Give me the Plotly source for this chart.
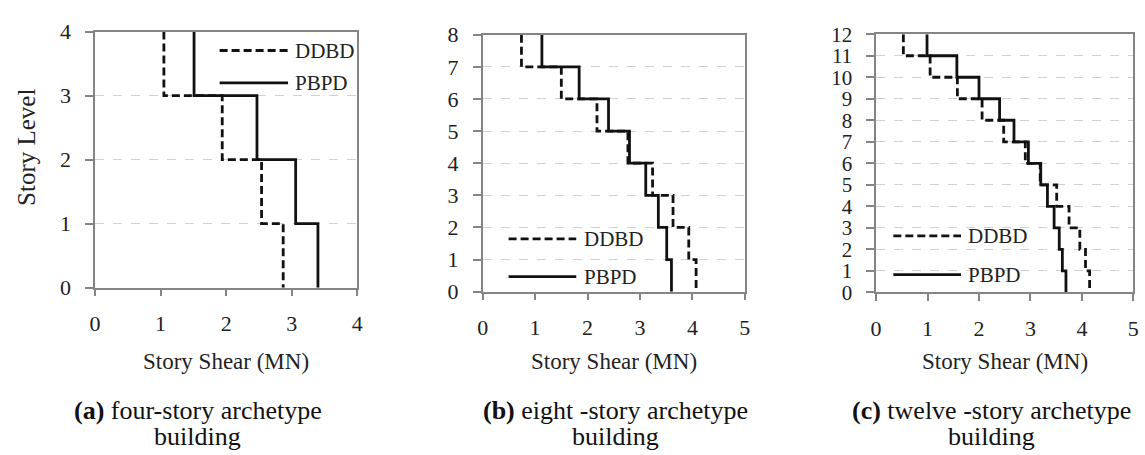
import plotly.graph_objects as go

# Story shear (MN) per story, listed from the first story (bottom) up to the roof
four_levels = 4
four_ddbd = [2.87, 2.54, 1.94, 1.05]
four_pbpd = [3.40, 3.06, 2.47, 1.51]

eight_levels = 8
eight_ddbd = [4.07, 3.93, 3.63, 3.24, 2.77, 2.18, 1.50, 0.74]
eight_pbpd = [3.60, 3.51, 3.35, 3.11, 2.80, 2.40, 1.84, 1.13]

twelve_levels = 12
twelve_ddbd = [4.15, 4.07, 3.96, 3.75, 3.51, 3.19, 2.90, 2.48, 2.06, 1.58, 1.05, 0.53]
twelve_pbpd = [3.69, 3.62, 3.56, 3.46, 3.33, 3.20, 2.96, 2.68, 2.40, 2.00, 1.57, 0.99]

x_max = [4, 5, 5]
captions = [
    ("(a)", "four-story archetype"),
    ("(b)", "eight -story archetype"),
    ("(c)", "twelve -story archetype"),
]
series_names = ["DDBD", "PBPD"]

W, H = 1145, 455
FONT = "Liberation Serif, Times New Roman, Times, serif"
INK = "#111111"
AXIS = "#858585"


def px_x(p):
    return p / W


def px_y(p):
    return 1 - p / H


def step_profile(shears, levels):
    """Stair-step shear profile from the roof down to the base."""
    ys = list(range(levels, -1, -1))
    xs = [shears[k - 1] for k in range(levels, 0, -1)] + [shears[0]]
    return xs, ys


panels = [
    dict(levels=four_levels, ddbd=four_ddbd, pbpd=four_pbpd,
         xdom=[px_x(90), px_x(355)], ydom=[px_y(291.7), px_y(20.7)],
         leg=dict(x0=0.475, x1=0.736, y=[0.926, 0.800]),
         cap_x=194, ytick_size=22),
    dict(levels=eight_levels, ddbd=eight_ddbd, pbpd=eight_pbpd,
         xdom=[px_x(481.7), px_x(746.7)], ydom=[px_y(296), px_y(24)],
         leg=dict(x0=0.099, x1=0.357, y=[0.206, 0.059]),
         cap_x=616, ytick_size=22),
    dict(levels=twelve_levels, ddbd=twelve_ddbd, pbpd=twelve_pbpd,
         xdom=[px_x(879.3), px_x(1139.3)], ydom=[px_y(296.7), px_y(23.5)],
         leg=dict(x0=0.067, x1=0.330, y=[0.219, 0.069]),
         cap_x=996, ytick_size=21),
]

fig = go.Figure()
shapes = []
annotations = []
dash_pat = "8px,4px"

for i, p in enumerate(panels):
    sfx = "" if i == 0 else str(i + 1)
    xa, ya = "x" + sfx, "y" + sfx

    for name, vals, dash in [(series_names[0], p["ddbd"], dash_pat),
                             (series_names[1], p["pbpd"], "solid")]:
        xs, ys = step_profile(vals, p["levels"])
        fig.add_trace(go.Scatter(
            x=xs, y=ys, mode="lines", name=name, showlegend=False,
            line=dict(color=INK, width=2.8, dash=dash, shape="vh"),
            xaxis=xa, yaxis=ya, cliponaxis=False,
        ))

    axis_common = dict(
        showline=True, linecolor=AXIS, linewidth=1.5, mirror=True,
        ticks="outside", tickcolor=AXIS, tickwidth=1.5,
        zeroline=False, dtick=1, tick0=0,
        fixedrange=True,
    )
    fig.update_layout({
        "xaxis" + sfx: dict(axis_common, domain=p["xdom"], range=[0, x_max[i]],
                            showgrid=False, ticklen=7, ticklabelstandoff=8,
                            tickfont=dict(family=FONT, size=22, color="#222222"),
                            anchor=ya),
        "yaxis" + sfx: dict(axis_common, domain=p["ydom"], range=[0, p["levels"]],
                            showgrid=True, gridcolor="#d2d2d2", gridwidth=1,
                            griddash="dash", ticklen=8, ticklabelstandoff=10,
                            tickfont=dict(family=FONT, size=p["ytick_size"],
                                          color="#222222"),
                            anchor=xa),
    })

    # legend keys drawn inside each panel
    lg = p["leg"]
    for name, dash, yk in [(series_names[0], dash_pat, lg["y"][0]),
                           (series_names[1], "solid", lg["y"][1])]:
        shapes.append(dict(type="line", xref=xa + " domain", yref=ya + " domain",
                           x0=lg["x0"], x1=lg["x1"], y0=yk, y1=yk,
                           line=dict(color=INK, width=2.8, dash=dash)))
        annotations.append(dict(xref=xa + " domain", yref=ya + " domain",
                                x=lg["x1"] + 0.02, y=yk, xanchor="left",
                                yanchor="middle", text=name, showarrow=False,
                                font=dict(family=FONT, size=21, color="#222222")))

    # x-axis title
    annotations.append(dict(xref=xa + " domain", yref="paper", x=0.5,
                            y=px_y(370), xanchor="center", yanchor="middle",
                            text="Story Shear (MN)", showarrow=False,
                            font=dict(family=FONT, size=23, color="#222222")))

    # caption beneath each panel
    tag, desc = captions[i]
    annotations.append(dict(xref="paper", yref="paper", x=px_x(p["cap_x"]),
                            y=px_y(422), xanchor="center", yanchor="middle",
                            text="<b>" + tag + "</b> " + desc, showarrow=False,
                            font=dict(family=FONT, size=26, color="#111111")))
    annotations.append(dict(xref="paper", yref="paper", x=px_x(p["cap_x"]),
                            y=px_y(449), xanchor="center", yanchor="middle",
                            text="building", showarrow=False,
                            font=dict(family=FONT, size=26, color="#111111")))

# shared y-axis title on the first panel
annotations.append(dict(xref="paper", yref="paper", x=px_x(20), y=px_y(143),
                        xanchor="center", yanchor="middle", textangle=-90,
                        text="Story Level", showarrow=False,
                        font=dict(family=FONT, size=25, color="#222222")))

fig.update_layout(
    width=W, height=H,
    margin=dict(l=0, r=0, t=0, b=0),
    paper_bgcolor="white", plot_bgcolor="white",
    font=dict(family=FONT),
    shapes=shapes, annotations=annotations,
    showlegend=False,
)

fig.write_html("out.html", config={"displayModeBar": False})
